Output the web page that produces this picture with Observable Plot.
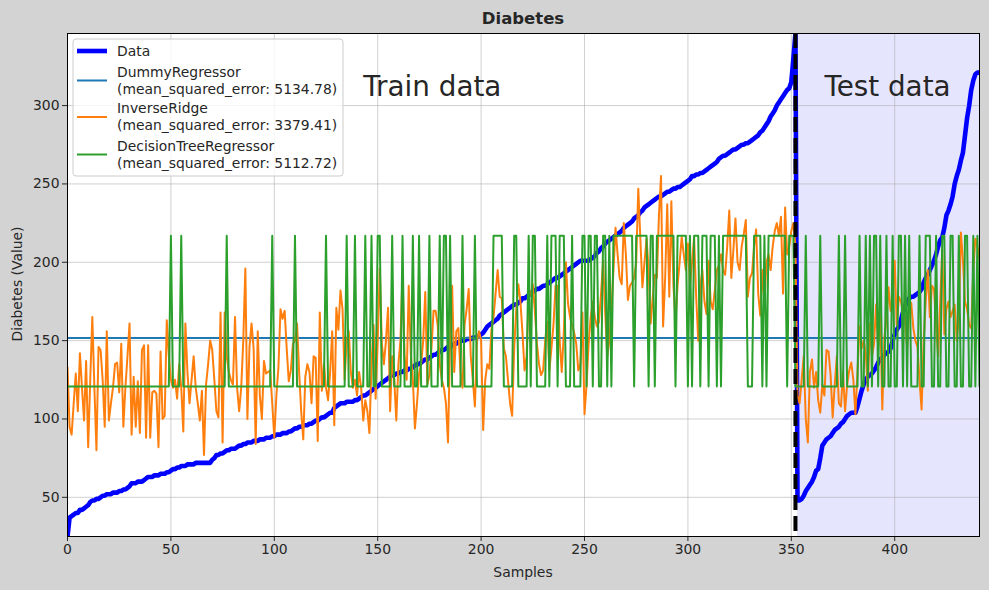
<!DOCTYPE html>
<html><head><meta charset="utf-8">
<script src="https://cdn.jsdelivr.net/npm/d3@7"></script>
<script src="https://cdn.jsdelivr.net/npm/@observablehq/plot@0.6"></script>
<style>body{margin:0;background:#d3d3d3;} svg{display:block;}</style>
</head><body><div id="chart"></div>
<script>
// ---- data ----
const title = "Diabetes";
const xLabel = "Samples";
const yLabel = "Diabetes (Value)";
const xTicks = [0, 50, 100, 150, 200, 250, 300, 350, 400];
const yTicks = [50, 100, 150, 200, 250, 300];
const xDomain = [0, 441];
const yDomain = [25, 346];

// sorted targets: train (0..352) then test (353..441)
const dataTrain = [
25,37,38,39,40,40,42,42,43,44,
45,47,48,48,49,49,50,51,51,52,
52,52,53,53,53,54,54,55,55,56,
57,59,59,59,60,60,60,61,62,63,
63,63,64,64,64,65,65,65,66,66,
67,68,68,69,69,70,70,70,71,71,
71,71,72,72,72,72,72,72,72,72,
74,75,77,77,78,78,79,80,80,81,
81,81,82,83,83,84,84,85,85,85,
86,86,86,87,87,87,88,88,88,89,
89,90,90,90,91,91,91,92,92,93,
94,94,95,95,96,96,96,97,97,98,
99,99,100,101,101,102,103,104,104,107,
108,109,110,110,110,111,111,111,111,112,
112,113,114,115,115,116,117,118,119,120,
121,122,123,124,125,126,127,128,128,129,
129,130,130,131,131,132,132,133,134,135,
135,136,137,138,138,139,140,141,141,142,
143,144,144,145,146,146,147,148,148,149,
150,150,150,151,151,151,152,152,152,153,
154,155,157,159,160,161,162,163,164,166,
167,168,169,170,171,172,173,173,174,175,
177,177,178,179,180,181,182,183,183,184,
185,185,186,187,188,189,190,190,191,192,
193,194,195,196,197,198,199,200,201,201,
201,201,201,202,203,204,206,207,209,210,
212,213,214,215,216,217,218,219,220,222,
223,224,225,226,228,229,230,232,233,235,
236,237,238,239,240,241,242,242,243,244,
245,245,246,247,247,248,248,249,250,251,
252,253,255,255,256,256,257,257,258,259,
260,261,262,263,264,266,267,268,268,269,
270,271,272,272,273,274,275,275,276,276,
277,278,279,280,281,283,284,286,288,290,
293,295,297,300,302,304,306,308,310,311,
315,330,346];
const dataTest = [
48,48,49,51,54,56,58,60,63,67,
68,75,83,85,87,88,89,91,93,94,
95,97,98,100,102,103,104,104,104,108,
113,118,122,125,127,128,129,131,133,136,
138,139,141,142,143,145,150,154,157,159,
163,168,172,175,177,178,178,179,180,181,
183,187,190,192,195,198,201,205,210,214,
216,222,230,233,237,242,250,255,259,265,
270,281,292,300,310,316,320,321,321];

const dummyMean = 151.6;

const inverseRidge = [
133,95,90,110,129,105,142,120,99,137,
82,125,165,120,80,146,144,125,95,156,
99,110,120,135,136,117,148,95,120,140,
161,90,127,95,124,91,144,147,88,147,
88,117,118,116,82,143,100,102,163,140,
125,120,125,113,135,120,92,161,130,110,
125,140,120,110,99,118,77,122,135,150,
144,125,105,101,168,85,168,140,130,125,
122,165,120,105,120,150,196,100,146,161,
145,84,156,115,100,137,129,130,131,110,
88,115,133,170,164,169,145,124,131,148,
150,161,130,105,87,127,135,130,110,140,
139,86,168,118,135,120,112,130,156,96,
171,157,182,170,125,150,156,130,120,125,
115,130,120,99,112,105,91,135,160,113,
150,196,148,135,150,171,105,140,125,99,
135,150,192,140,125,185,142,125,94,110,
129,135,150,181,122,128,145,169,169,160,
135,125,120,110,85,150,185,130,156,158,
130,120,160,170,183,140,125,108,150,156,
150,93,125,135,132,157,165,180,195,178,
177,145,140,125,110,102,145,170,186,175,
155,131,140,178,180,186,169,148,135,128,
131,150,162,131,145,160,185,185,150,130,
155,200,174,165,160,155,148,131,135,168,
103,122,148,165,175,165,159,162,180,201,
168,140,150,170,195,222,205,190,186,225,
205,176,185,187,190,200,247,215,184,200,
215,195,161,178,192,190,230,255,159,190,
237,178,239,185,163,185,200,216,205,195,
212,185,200,216,178,150,185,195,175,167,
201,175,170,182,195,198,205,195,192,210,
233,190,208,228,200,195,210,218,227,178,
190,193,210,221,180,166,195,174,200,205,
195,210,220,225,217,229,180,235,205,210,
220,225,210,115,110,125,140,100,85,130,
138,120,130,112,104,122,115,144,143,128,
101,122,140,110,108,130,105,122,131,136,
125,103,130,159,145,150,142,118,161,140,
148,173,145,167,106,152,163,184,169,178,
201,160,178,175,168,165,145,170,174,158,
150,146,125,106,150,175,195,165,185,183,
160,140,175,208,154,170,175,165,169,173,
150,165,219,201,175,170,160,158,195,215,
210,202];

const H = 216.9, L = 120.8;
const decisionTree = [
L,L,L,L,L,L,L,L,L,L,
L,L,L,L,L,L,L,L,L,L,
L,L,L,L,L,L,L,L,L,L,
L,L,L,L,L,L,L,L,L,L,
L,L,L,L,L,L,L,L,L,L,
H,L,L,L,L,H,L,L,L,L,
L,L,L,L,L,L,L,L,L,L,
L,L,L,L,L,L,L,H,L,L,
L,L,L,L,L,L,L,L,L,L,
L,L,L,L,L,L,L,L,L,H,
L,L,L,L,L,L,L,L,L,L,
H,L,L,L,L,L,L,L,L,L,
L,L,L,L,L,H,L,L,L,L,
L,L,L,L,L,H,L,L,L,H,
L,L,L,L,H,L,L,H,L,L,
H,H,L,L,L,L,L,H,L,L,
L,L,H,L,L,L,L,H,L,L,
H,L,L,L,L,H,L,L,L,L,
H,L,H,H,L,H,L,L,L,L,
L,H,L,L,L,L,L,H,L,L,
L,L,L,L,L,L,H,H,H,H,
H,L,L,L,L,L,H,H,L,L,
L,L,L,H,L,H,H,L,L,L,
L,L,H,L,H,H,H,L,H,H,
H,L,L,L,H,L,L,L,L,H,
H,L,H,H,L,H,H,L,L,H,
H,L,H,L,H,H,H,H,H,H,
H,H,H,H,L,H,H,H,H,H,
H,L,H,H,L,H,H,H,H,H,
H,H,H,H,L,H,H,H,H,H,
L,H,L,H,H,H,L,H,H,H,
L,H,H,H,L,H,L,H,H,H,
H,H,H,H,H,H,H,H,H,L,
L,L,H,H,H,H,L,H,L,H,
H,H,H,H,H,H,H,H,L,H,
H,H,L,L,L,L,L,H,L,L,
L,L,L,L,H,L,L,L,L,L,
L,L,L,H,L,L,H,L,L,L,
L,L,L,H,L,L,H,L,H,L,
H,H,L,H,L,L,H,L,L,H,
L,L,H,H,L,H,L,H,L,L,
L,L,H,L,L,H,H,H,L,L,
H,L,L,H,H,L,L,H,H,L,
L,H,L,L,H,H,L,L,H,L,
H,L];

const splitLine = 352;
const testSpan = [{start: 353, end: 441}];
const annotations = [
  {x: 143, y: 312, label: "Train data"},
  {x: 366, y: 312, label: "Test data"}
];
const legendLabels = [
  ["Data"],
  ["DummyRegressor", "(mean_squared_error: 5134.78)"],
  ["InverseRidge", "(mean_squared_error: 3379.41)"],
  ["DecisionTreeRegressor", "(mean_squared_error: 5112.72)"]
];
const seriesColors = ["blue", "#1f77b4", "#ff7f0e", "#2ca02c"];

// ---- chart ----
const dataSorted = dataTrain.concat(dataTest);
const idx = (d, i) => i;
const val = d => d;
const FONT = "DejaVu Sans, sans-serif";
const TXT = "#262626";
const widths = [4.6, 2, 2, 2];

const chart = Plot.plot({
  width: 989, height: 590,
  marginLeft: 67, marginRight: 10, marginTop: 33, marginBottom: 54,
  style: {background: "#d3d3d3", fontFamily: FONT, fontSize: "13.9px", color: TXT},
  x: {domain: xDomain, ticks: xTicks, tickSize: 5, tickPadding: 3, label: null},
  y: {domain: yDomain, ticks: yTicks, tickSize: 5, tickPadding: 3, label: null},
  marks: [
    Plot.frame({fill: "white"}),
    Plot.rect(testSpan, {x1: "start", x2: "end", fill: "#e5e5fd"}),
    Plot.ruleX(xTicks, {stroke: "#b0b0b0", strokeOpacity: 0.6, strokeWidth: 1}),
    Plot.ruleY(yTicks, {stroke: "#b0b0b0", strokeOpacity: 0.6, strokeWidth: 1}),
    Plot.line(dataSorted, {x: idx, y: val, stroke: seriesColors[0], strokeWidth: widths[0], clip: true}),
    Plot.ruleY([dummyMean], {stroke: seriesColors[1], strokeWidth: widths[1]}),
    Plot.line(inverseRidge, {x: idx, y: val, stroke: seriesColors[2], strokeWidth: widths[2], clip: true}),
    Plot.line(decisionTree, {x: idx, y: val, stroke: seriesColors[3], strokeWidth: widths[3], clip: true}),
    Plot.ruleX([splitLine], {stroke: "black", strokeWidth: 4, strokeDasharray: "15,6"}),
    Plot.text(annotations, {x: "x", y: "y", text: "label", textAnchor: "start", fontSize: 27.8, fill: TXT, fontFamily: FONT}),
    Plot.frame({stroke: "black", strokeWidth: 1})
  ]
});
document.getElementById("chart").appendChild(chart);

const svg = d3.select(chart);
svg.append("text").attr("x", 523).attr("y", 18).attr("dy", "0.35em")
  .attr("text-anchor", "middle").attr("font-family", FONT).attr("font-size", 16.5)
  .attr("font-weight", "bold").attr("fill", TXT).text(title);
svg.append("text").attr("x", 523).attr("y", 572).attr("dy", "0.35em")
  .attr("text-anchor", "middle").attr("font-family", FONT).attr("font-size", 13.9)
  .attr("fill", TXT).text(xLabel);
svg.append("text").attr("transform", "translate(17,284) rotate(-90)").attr("dy", "0.35em")
  .attr("text-anchor", "middle").attr("font-family", FONT).attr("font-size", 13.9)
  .attr("fill", TXT).text(yLabel);

// legend
const lg = svg.append("g");
lg.append("rect").attr("x", 73).attr("y", 39).attr("width", 270).attr("height", 137)
  .attr("rx", 3).attr("fill", "white").attr("fill-opacity", 0.8).attr("stroke", "#cccccc");
const rowCenters = [51, 80.5, 117, 154.5];
legendLabels.forEach((lines, k) => {
  const cy = rowCenters[k];
  lg.append("line").attr("x1", 77).attr("x2", 107).attr("y1", cy).attr("y2", cy)
    .attr("stroke", seriesColors[k]).attr("stroke-width", widths[k]);
  lines.forEach((t, j) => {
    const ty = cy + (lines.length === 1 ? 0 : (j === 0 ? -8.5 : 8.3));
    lg.append("text").attr("x", 117).attr("y", ty).attr("dy", "0.35em")
      .attr("text-anchor", "start")
      .attr("font-family", FONT).attr("font-size", 13.9).attr("fill", TXT).text(t);
  });
});
</script>
</body></html>
